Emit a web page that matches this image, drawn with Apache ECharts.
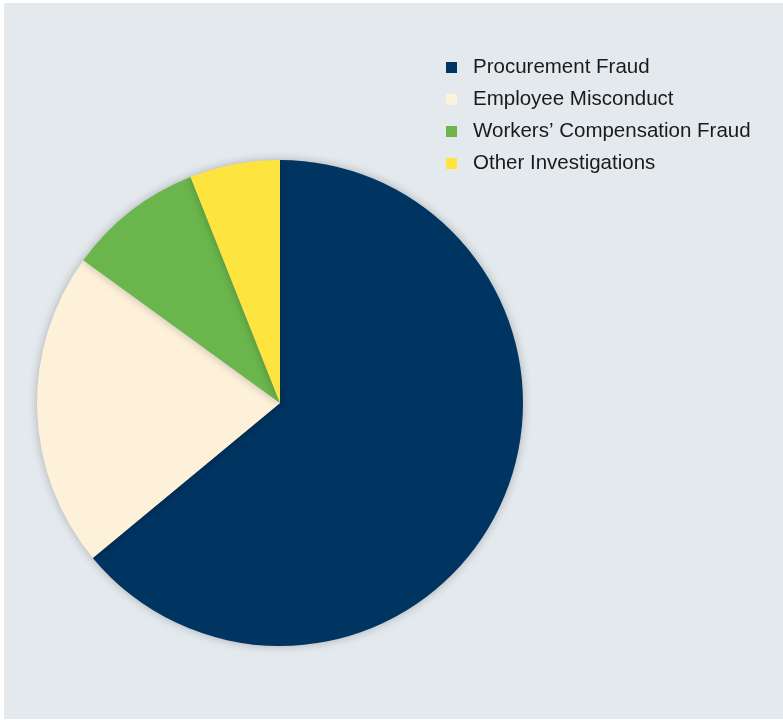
<!DOCTYPE html>
<html><head><meta charset="utf-8">
<script src="https://cdn.jsdelivr.net/npm/echarts@6/dist/echarts.min.js"></script>
<style>html,body{margin:0;padding:0;background:#fff}#c{width:783px;height:720px}</style>
</head><body><div id="c"></div>
<script>
const categories = ['Procurement Fraud', 'Employee Misconduct', "Workers\u2019 Compensation Fraud", 'Other Investigations'];
const values = [64, 21, 9, 6];
const colors = ['#003461', '#fef1da', '#6ab64c', '#fde43e'];

const chart = echarts.init(document.getElementById('c'));
chart.setOption({
  backgroundColor: '#ffffff',
  animation: false,
  graphic: [{ type: 'rect', z: -10, shape: { x: 4, y: 3, width: 779, height: 716 }, style: { fill: '#e4e9ed' } }],
  legend: {
    orient: 'vertical', left: 441, top: 52,
    icon: 'rect', itemWidth: 11, itemHeight: 11, itemGap: 11,
    textStyle: { fontFamily: 'Liberation Sans, Arial, sans-serif', fontSize: 20.5, color: '#1a1a1a', lineHeight: 21, padding: [0, 0, 0, 11] },
    data: categories
  },
  series: [{
    type: 'pie', center: [280, 403], radius: 243, startAngle: 90, clockwise: true,
    label: { show: false }, labelLine: { show: false },
    emphasis: { disabled: true },
    itemStyle: { shadowBlur: 10, shadowColor: 'rgba(0,0,0,0.25)', borderWidth: 0 },
    data: categories.map((n, i) => ({ name: n, value: values[i], itemStyle: { color: colors[i] } }))
  }]
});
</script></body></html>
